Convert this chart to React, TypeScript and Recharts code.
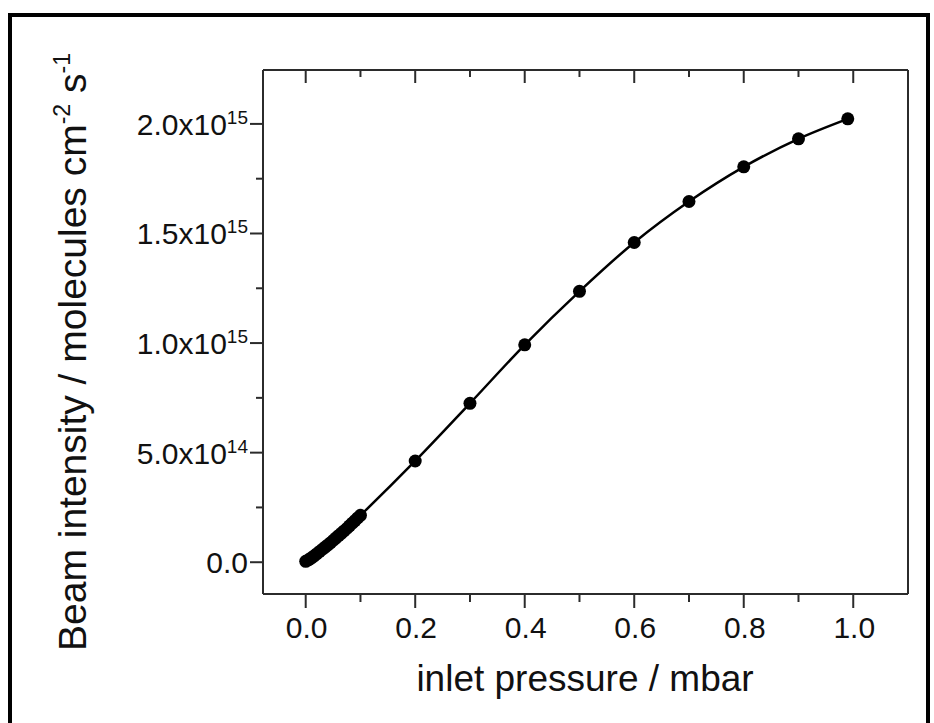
import React from 'react';
import { LineChart, Line, XAxis, YAxis, Label } from 'recharts';

// inlet pressure / mbar
const pressure = [0, 0.005, 0.01, 0.015, 0.02, 0.025, 0.03, 0.035, 0.04, 0.045, 0.05, 0.055, 0.06, 0.065, 0.07, 0.075, 0.08, 0.085, 0.09, 0.095, 0.1, 0.2, 0.3, 0.4, 0.5, 0.6, 0.7, 0.8, 0.9, 0.99];
// beam intensity in units of 1e15 molecules cm^-2 s^-1
const intensity = [0.004, 0.011, 0.019, 0.028, 0.038, 0.048, 0.058, 0.068, 0.078, 0.088, 0.099, 0.11, 0.121, 0.132, 0.143, 0.154, 0.166, 0.178, 0.19, 0.202, 0.214, 0.462, 0.725, 0.992, 1.236, 1.459, 1.646, 1.804, 1.932, 2.023];

const xMajorTicks = [0, 0.2, 0.4, 0.6, 0.8, 1.0];
const xMinorTicks = [0.1, 0.3, 0.5, 0.7, 0.9];
const xTickLabels = ['0.0', '0.2', '0.4', '0.6', '0.8', '1.0'];

const yMajorTicks = [0, 0.5, 1.0, 1.5, 2.0];
const yMinorTicks = [0.25, 0.75, 1.25, 1.75];
const yTickMantissa = ['0.0', '5.0x10', '1.0x10', '1.5x10', '2.0x10'];
const yTickExponent = ['', '14', '15', '15', '15'];

const xDomain = [-0.078, 1.1];
const yDomain = [-0.145, 2.246];

const data = pressure.map((p, i) => ({ p, v: intensity[i] }));
const xTicks = [...xMajorTicks, ...xMinorTicks].sort((a, b) => a - b);
const yTicks = [...yMajorTicks, ...yMinorTicks].sort((a, b) => a - b);

const FONT = '"Liberation Sans", Arial, sans-serif';
const AXIS = '#2b2b2b';
const TXT = '#111';

const near = (arr: number[], v: number) => arr.findIndex((a) => Math.abs(a - v) < 1e-9);

const BottomTick = (props: any) => {
  const { x, y, payload } = props;
  const mi = near(xMajorTicks, payload.value);
  const major = mi >= 0;
  return (
    <g>
      <line x1={x} x2={x} y1={y} y2={y + (major ? 14 : 8)} stroke={AXIS} strokeWidth={2} />
      {major && (
        <text x={x + 1} y={y + 44} textAnchor="middle" fontSize={30} fontFamily={FONT} fill={TXT}>
          {xTickLabels[mi]}
        </text>
      )}
    </g>
  );
};

const TopTick = (props: any) => {
  const { x, y, payload } = props;
  const major = near(xMajorTicks, payload.value) >= 0;
  return <line x1={x} x2={x} y1={y} y2={y + (major ? 13 : 7)} stroke={AXIS} strokeWidth={2} />;
};

const LeftTick = (props: any) => {
  const { x, y, payload } = props;
  const mi = near(yMajorTicks, payload.value);
  const major = mi >= 0;
  return (
    <g>
      <line x1={x} x2={x - (major ? 13 : 7)} y1={y} y2={y} stroke={AXIS} strokeWidth={2} />
      {major && (
        <text x={x - 15} y={y + 11} textAnchor="end" fontFamily={FONT} fill={TXT}>
          <tspan fontSize={30}>{yTickMantissa[mi]}</tspan>
          {yTickExponent[mi] && (
            <tspan fontSize={19} dy={-11}>
              {yTickExponent[mi]}
            </tspan>
          )}
        </text>
      )}
    </g>
  );
};

const YLabel = () => (
  <text
    x={86}
    y={651}
    transform="rotate(-90, 86, 651)"
    textAnchor="start"
    fontFamily={FONT}
    fill={TXT}
  >
    <tspan fontSize={39}>Beam intensity / molecules cm</tspan>
    <tspan fontSize={23} dy={-16}>-2</tspan>
    <tspan fontSize={39} dy={16}> s</tspan>
    <tspan fontSize={23} dy={-16}>-1</tspan>
  </text>
);

const XLabel = () => (
  <text x={585} y={691} textAnchor="middle" fontFamily={FONT} fontSize={37} fill={TXT}>
    inlet pressure / mbar
  </text>
);

export default function App() {
  return (
    <div
      style={{
        position: 'absolute',
        left: 0,
        top: 0,
        width: 934,
        height: 723,
        overflow: 'hidden',
        background: '#fff',
      }}
    >
      <div
        style={{
          position: 'absolute',
          left: 8,
          top: 13,
          width: 922,
          height: 730,
          border: '4px solid #000',
          boxSizing: 'border-box',
        }}
      />
      <div style={{ position: 'absolute', left: 0, top: 0 }}>
        <LineChart width={934} height={723} data={data} margin={{ top: 0, right: 0, bottom: 0, left: 0 }}>
          <XAxis
            xAxisId="b"
            orientation="bottom"
            dataKey="p"
            type="number"
            domain={xDomain}
            allowDataOverflow
            ticks={xTicks}
            interval={0}
            height={129}
            tickSize={0}
            tickMargin={0}
            tickLine={false}
            axisLine={{ stroke: AXIS, strokeWidth: 2 }}
            tick={BottomTick}
          >
            <Label content={XLabel} />
          </XAxis>
          <XAxis
            xAxisId="t"
            orientation="top"
            dataKey="p"
            type="number"
            domain={xDomain}
            allowDataOverflow
            ticks={xTicks}
            interval={0}
            height={70}
            tickSize={0}
            tickMargin={0}
            tickLine={false}
            axisLine={{ stroke: AXIS, strokeWidth: 2 }}
            tick={TopTick}
          />
          <YAxis
            yAxisId="l"
            orientation="left"
            type="number"
            domain={yDomain}
            allowDataOverflow
            ticks={yTicks}
            interval={0}
            width={263}
            tickSize={0}
            tickMargin={0}
            tickLine={false}
            axisLine={{ stroke: AXIS, strokeWidth: 2 }}
            tick={LeftTick}
          >
            <Label content={YLabel} />
          </YAxis>
          <YAxis
            yAxisId="r"
            orientation="right"
            type="number"
            domain={yDomain}
            allowDataOverflow
            width={26}
            tick={false}
            tickLine={false}
            axisLine={{ stroke: AXIS, strokeWidth: 2 }}
          />
          <Line
            xAxisId="b"
            yAxisId="l"
            dataKey="v"
            type="monotone"
            stroke="#000"
            strokeWidth={2.5}
            dot={{ r: 6.5, fill: '#000', stroke: 'none' }}
            isAnimationActive={false}
          />
        </LineChart>
      </div>
    </div>
  );
}
